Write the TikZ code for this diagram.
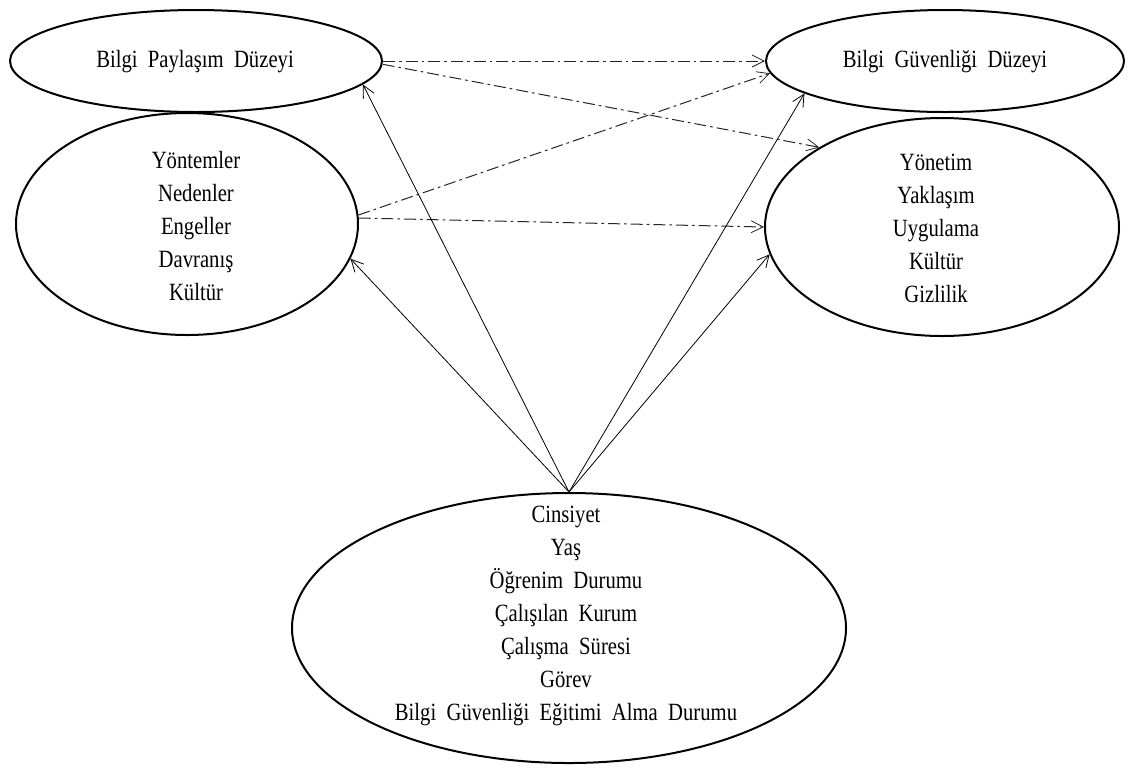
\documentclass[tikz,border=0pt]{standalone}
\usepackage{fontspec}
\setmainfont{Liberation Serif}
\usetikzlibrary{shapes.geometric,arrows.meta}
\begin{document}
\begin{tikzpicture}[x=0.75pt,y=-0.75pt,
  oval/.style={draw,ellipse,line width=1.5pt,inner sep=0pt},
  txt/.style={align=center,inner sep=0pt,yscale=1.2,transform shape,
    font=\fontsize{15.5}{20.6}\selectfont},
  conn/.style={line width=0.6pt,-{Straight Barb[length=9pt,width=9pt,line width=0.6pt]}},
  dd/.style={conn,line width=0.75pt,draw=black!85,dash pattern=on 9pt off 3pt on 2pt off 3pt}]
\useasboundingbox (0,0) rectangle (1134,769);
\node[oval,minimum width=372*0.75pt,minimum height=102*0.75pt] (p) at (196,61) {};
\node[txt] (pt) at (195,62) {Bilgi\ \ Paylaşım\ \ Düzeyi};
\node[oval,minimum width=342*0.75pt,minimum height=222*0.75pt] (l) at (187,224) {};
\node[txt] (lt) at (196,226) {Yöntemler\\Nedenler\\Engeller\\Davranış\\Kültür};
\node[oval,minimum width=358*0.75pt,minimum height=102*0.75pt] (g) at (945,61) {};
\node[txt] (gt) at (945,62) {Bilgi\ \ Güvenliği\ \ Düzeyi};
\node[oval,minimum width=354*0.75pt,minimum height=218*0.75pt] (r) at (942,227) {};
\node[txt] (rt) at (936,228) {Yönetim\\Yaklaşım\\Uygulama\\Kültür\\Gizlilik};
\node[oval,minimum width=554*0.75pt,minimum height=270*0.75pt] (b) at (569,628) {};
\node[txt] (bt) at (566,616) {Cinsiyet\\Yaş\\Öğrenim\ \ Durumu\\Çalışılan\ \ Kurum\\Çalışma\ \ Süresi\\Görev\\Bilgi\ \ Güvenliği\ \ Eğitimi\ \ Alma\ \ Durumu};
\draw[dd] (p.0) -- (g.180);
\draw[dd] (p.-1) -- (r.147);
\draw[dd] (l.3) -- (g.184);
\draw[dd] (l.2) -- (r.180);
\draw[conn] (b.north) -- (p.-8);
\draw[conn] (b.north) -- (l.-12);
\draw[conn] (b.north) -- (g.193);
\draw[conn] (b.north) -- (r.189);
\end{tikzpicture}
\end{document}
